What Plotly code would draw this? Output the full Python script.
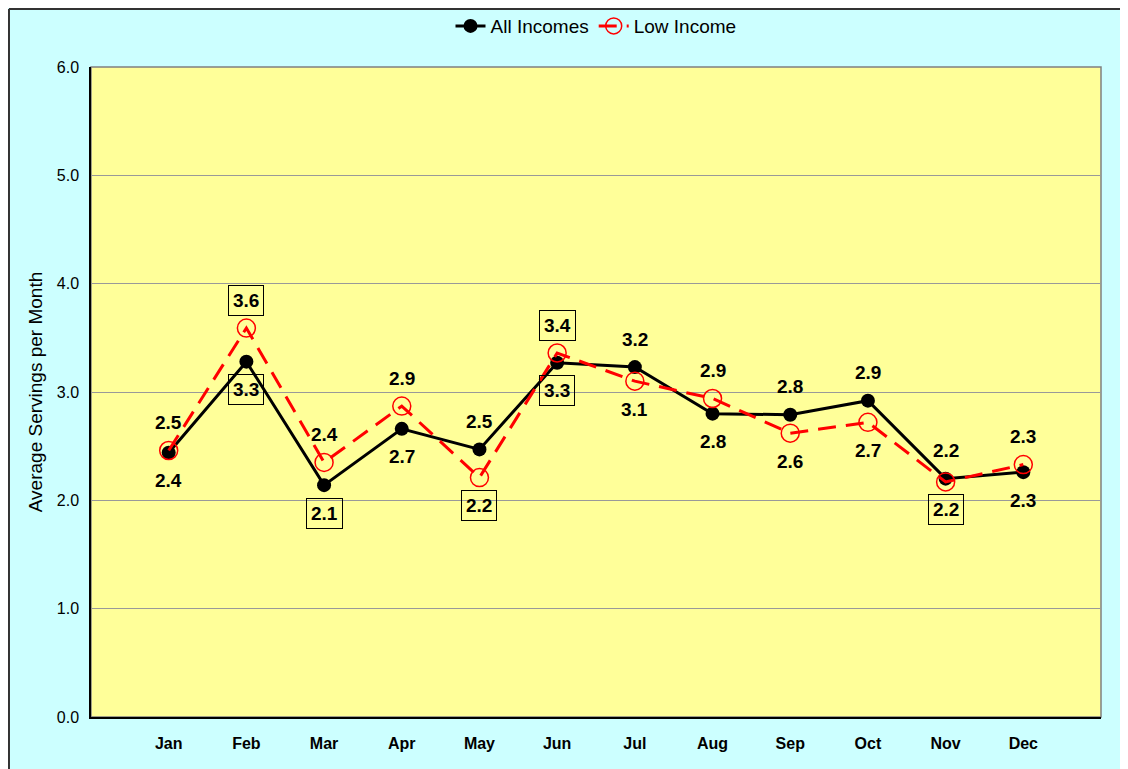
import plotly.graph_objects as go

months = ["Jan", "Feb", "Mar", "Apr", "May", "Jun", "Jul", "Aug", "Sep", "Oct", "Nov", "Dec"]
all_incomes = [2.44, 3.28, 2.14, 2.66, 2.47, 3.27, 3.23, 2.80, 2.79, 2.92, 2.20, 2.26]
low_income = [2.46, 3.59, 2.35, 2.87, 2.21, 3.36, 3.10, 2.94, 2.62, 2.72, 2.17, 2.33]

# label placement: +1 above, -1 below; boxed flags
all_pos = [-1, -1, -1, -1, 1, -1, 1, -1, 1, 1, 1, -1]
all_box = [0, 1, 1, 0, 0, 1, 0, 0, 0, 0, 0, 0]
low_pos = [1, 1, 1, 1, -1, 1, -1, 1, -1, -1, -1, 1]
low_box = [0, 1, 0, 0, 1, 1, 0, 0, 0, 0, 1, 0]

FONT = "Arial, Liberation Sans, sans-serif"
xs = list(range(len(months)))

fig = go.Figure()
fig.add_trace(go.Scatter(
    x=xs, y=all_incomes, name="All Incomes", mode="lines+markers",
    line=dict(color="black", width=3),
    marker=dict(symbol="circle", size=14, color="black"),
))
fig.add_trace(go.Scatter(
    x=xs, y=low_income, name="Low Income", mode="lines+markers",
    line=dict(color="#FF0000", width=3, dash="18px,10px"),
    marker=dict(symbol="circle-open", size=18, color="#FF0000", line=dict(width=1.5)),
))

annotations = []
for series, positions, boxes in ((all_incomes, all_pos, all_box), (low_income, low_pos, low_box)):
    for i, v in enumerate(series):
        a = dict(x=xs[i], y=v, xref="x", yref="y", text=f"{v:.1f}", showarrow=False,
                 yshift=28 * positions[i],
                 font=dict(family=FONT, size=19, color="black", weight="bold"))
        if boxes[i]:
            a.update(bordercolor="black", borderwidth=1, borderpad=4)
        annotations.append(a)

# figure sits 8px inside the page (body margin); margins compensate
fig.update_layout(
    width=1128, height=769,
    margin=dict(l=83, r=35, t=59, b=60, autoexpand=False),
    paper_bgcolor="#CCFFFF",
    plot_bgcolor="#FFFF99",
    font=dict(family=FONT, color="black"),
    showlegend=True,
    legend=dict(orientation="h", x=0.5, xanchor="center", y=1.063, yanchor="middle",
                font=dict(size=19, family=FONT), bgcolor="rgba(0,0,0,0)",
                itemwidth=30, tracegroupgap=0),
    annotations=annotations,
    xaxis=dict(range=[-1, 12], tickmode="array", tickvals=xs, ticktext=months,
               showgrid=False, zeroline=False, showline=True, linecolor="black", linewidth=1.5,
               ticks="", ticklabelstandoff=11,
               tickfont=dict(size=16, family=FONT, weight="bold")),
    yaxis=dict(range=[0, 6], dtick=1, tickformat=".1f", showgrid=True, gridcolor="#999999",
               gridwidth=1, zeroline=False, showline=True, linecolor="black", linewidth=1.5,
               ticks="", ticklabelstandoff=7, tickfont=dict(size=16, family=FONT),
               title=dict(text="Average Servings per Month", font=dict(size=19, family=FONT),
                          standoff=9)),
    shapes=[
        dict(type="rect", xref="paper", yref="paper", x0=0, x1=1, y0=0, y1=1,
             line=dict(color="#808080", width=1.5), fillcolor="rgba(0,0,0,0)", layer="below"),
        dict(type="line", xref="paper", yref="paper", x0=-0.0812, x1=-0.0812, y0=-0.2, y1=1.0892,
             line=dict(color="#333333", width=2), layer="above"),
        dict(type="line", xref="paper", yref="paper", x0=-0.0812, x1=1.2, y0=1.0892, y1=1.0892,
             line=dict(color="#333333", width=2), layer="above"),
    ],
)

fig.write_html("out.html")
